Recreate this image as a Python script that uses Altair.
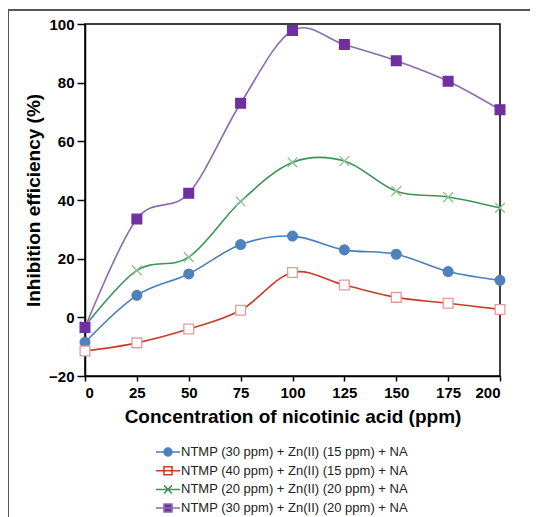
import altair as alt
import pandas as pd

conc = [0, 25, 50, 75, 100, 125, 150, 175, 200]
names = [
    "NTMP (30 ppm) + Zn(II) (15 ppm) + NA",
    "NTMP (40 ppm) + Zn(II) (15 ppm) + NA",
    "NTMP (20 ppm) + Zn(II) (20 ppm) + NA",
    "NTMP (30 ppm) + Zn(II) (20 ppm) + NA",
]
s1 = [-8.5, 7.5, 14.8, 24.8, 27.7, 23.0, 21.5, 15.6, 12.6]
s2 = [-11.5, -8.7, -4.0, 2.4, 15.3, 11.0, 6.8, 4.8, 2.7]
s3 = [-3.0, 16.0, 20.5, 39.5, 52.8, 53.3, 43.0, 41.0, 37.3]
s4 = [-3.5, 33.5, 42.3, 73.0, 97.8, 93.0, 87.5, 80.5, 70.8]

line_colors = ["#4A7EBB", "#CC3A2C", "#3A9458", "#8A6BB0"]
marker_stroke = ["#4F81BD", "#E39B9B", "#8CC08C", "#7030A0"]
marker_fill = ["#4F81BD", "#FFFFFF", "transparent", "#7030A0"]
marker_shapes = ["circle", "square", "M-1,-1L1,1M-1,1L1,-1", "square"]
legend_shapes = [
    "M-2,0H2M-0.67,0A0.67,0.67,0,1,1,0.67,0A0.67,0.67,0,1,1,-0.67,0Z",
    "M-2,0H2M-0.67,-0.67H0.67V0.67H-0.67Z",
    "M-2,0H2M-0.67,-0.67L0.67,0.67M-0.67,0.67L0.67,-0.67",
    "M-2,0H2M-0.67,-0.67H0.67V0.67H-0.67Z",
]

rows = []
for name, vals in zip(names, [s1, s2, s3, s4]):
    for c, v in zip(conc, vals):
        rows.append({"conc": c, "ie": v, "series": name})
df = pd.DataFrame(rows)

xenc = alt.X("conc:Q", scale=alt.Scale(domain=[0, 200], nice=False),
             axis=alt.Axis(values=conc, title="Concentration of nicotinic acid (ppm)",
                           grid=False, tickSize=5, labelPadding=4, titlePadding=7))
yenc = alt.Y("ie:Q", scale=alt.Scale(domain=[-20, 100], nice=False),
             axis=alt.Axis(values=[-20, 0, 20, 40, 60, 80, 100], title="Inhibition efficiency (%)",
                           grid=False, tickSize=8, labelPadding=3, titlePadding=5))

base = alt.Chart(df)

lines = base.mark_line(interpolate="cardinal", strokeWidth=1.6).encode(
    x=xenc, y=yenc,
    color=alt.Color("series:N", scale=alt.Scale(domain=names, range=line_colors), legend=None),
    detail="series:N",
)

points = base.mark_point(filled=False, strokeWidth=1.3, size=95, opacity=1).encode(
    x=xenc, y=yenc,
    stroke=alt.Stroke("series:N", scale=alt.Scale(domain=names, range=marker_stroke), legend=None),
    fill=alt.Fill("series:N", scale=alt.Scale(domain=names, range=marker_fill), legend=None),
    shape=alt.Shape("series:N", scale=alt.Scale(domain=names, range=marker_shapes), legend=None),
)

leg = alt.Legend(title=None, orient="none", legendX=76, legendY=421,
                 symbolSize=144, symbolStrokeWidth=1.5, symbolOpacity=1,
                 labelFont="Liberation Sans", labelFontSize=13, labelColor="#222",
                 labelOffset=6, rowPadding=2.7, padding=0, labelLimit=400)

legend_layer = base.mark_point(filled=False, opacity=0).encode(
    x=xenc, y=yenc,
    color=alt.Color("series:N", scale=alt.Scale(domain=names, range=line_colors), legend=leg),
    fill=alt.Fill("series:N", scale=alt.Scale(domain=names, range=marker_fill), legend=leg),
    shape=alt.Shape("series:N", scale=alt.Scale(domain=names, range=legend_shapes), legend=leg),
)

frame_top = alt.Chart(pd.DataFrame({"a": [0]})).mark_rule(color="#555", strokeWidth=2).encode(
    x=alt.value(-77), x2=alt.value(460), y=alt.value(-14))
frame_left = alt.Chart(pd.DataFrame({"a": [0]})).mark_rule(color="#555", strokeWidth=2).encode(
    x=alt.value(-77), y=alt.value(-14), y2=alt.value(500))

chart = alt.layer(frame_top, frame_left, lines, points, legend_layer).resolve_scale(
    shape="independent", fill="independent", color="independent", stroke="independent"
).properties(
    width=415, height=352,
    autosize=alt.AutoSizeParams(type="none"),
    padding={"left": 77, "top": 16, "right": 30, "bottom": 141},
).configure_view(stroke="black", strokeWidth=1.5).configure_axis(
    domainColor="black", domainWidth=1.5, tickColor="black", tickWidth=1.5,
    labelFont="Liberation Sans", labelFontSize=15, labelFontWeight="bold", labelColor="black",
    titleFont="Liberation Sans", titleFontSize=19, titleFontWeight="bold", titleColor="black",
)

chart.save("out.html", embed_options={"renderer": "svg", "actions": False})
